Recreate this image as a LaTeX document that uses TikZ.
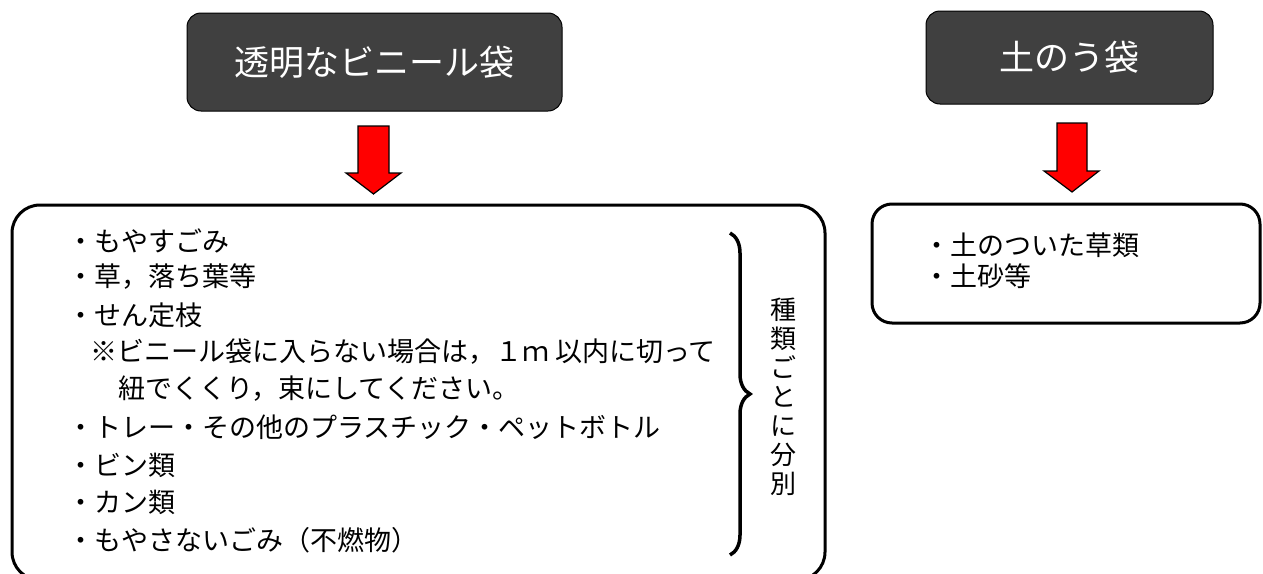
\documentclass[tikz,border=0pt]{standalone}
\usepackage{fontspec}
\setmainfont{Noto Sans CJK JP}
\usetikzlibrary{decorations.pathreplacing}
\begin{document}
\begin{tikzpicture}[x=1pt,y=-1pt,
  titlebox/.style={draw=black, line width=1pt, fill=black!75, rounded corners=14pt, text=white, font=\fontsize{35}{40}\selectfont, inner sep=0pt},
  listbox/.style={draw=black, line width=3pt, inner sep=0pt},
  item/.style={anchor=west, inner sep=0pt, font=\fontsize{27}{30}\selectfont},
  arrowshape/.style={fill=red, draw=black, line width=1.2pt, line join=miter}]
\useasboundingbox (0,0) rectangle (1263,573);
% title boxes
\node[titlebox, minimum width=375pt, minimum height=98pt] (t1) at (374.5,62) {透明なビニール袋};
\node[titlebox, minimum width=287pt, minimum height=93pt] (t2) at (1069.5,57.5) {土のう袋};
% arrows
\draw[arrowshape] (358,126) -- (389,126) -- (389,173) -- (401,173) -- (373.5,194) -- (346,173) -- (358,173) -- cycle;
\draw[arrowshape] (1057,123) -- (1087,123) -- (1087,171) -- (1099,171) -- (1072,192) -- (1044,171) -- (1057,171) -- cycle;
% list boxes
\node[listbox, rounded corners=28pt, minimum width=813pt, minimum height=375pt] (b1) at (418.5,392.5) {};
\node[listbox, rounded corners=20pt, minimum width=388pt, minimum height=119pt] (b2) at (1066,263.5) {};
% left list
\node[item] (l1) at (67,241) {・もやすごみ};
\node[item] (l2) at (67,277) {・草，落ち葉等};
\node[item] (l3) at (67,315) {・せん定枝};
\node[item] (l4) at (90,352) {※ビニール袋に入らない場合は，１ｍ 以内に切って};
\node[item] (l5) at (118,389) {紐でくくり，束にしてください。};
\node[item] (l6) at (67,427) {・トレー・その他のプラスチック・ペットボトル};
\node[item] (l7) at (67,465) {・ビン類};
\node[item] (l8) at (67,502) {・カン類};
\node[item] (l9) at (67,540) {・もやさないごみ（不燃物）};
% brace and vertical label
\draw[line width=3.5pt, decorate, decoration={brace, amplitude=20pt}] (730,233) -- (730,555);
\node[inner sep=0pt, align=center, font=\fontsize{26}{29}\selectfont] (v) at (783,397) {種\\類\\ご\\と\\に\\分\\別};
% right list
\node[item] (r1) at (923,245) {・土のついた草類};
\node[item] (r2) at (923,276) {・土砂等};
\end{tikzpicture}
\end{document}
